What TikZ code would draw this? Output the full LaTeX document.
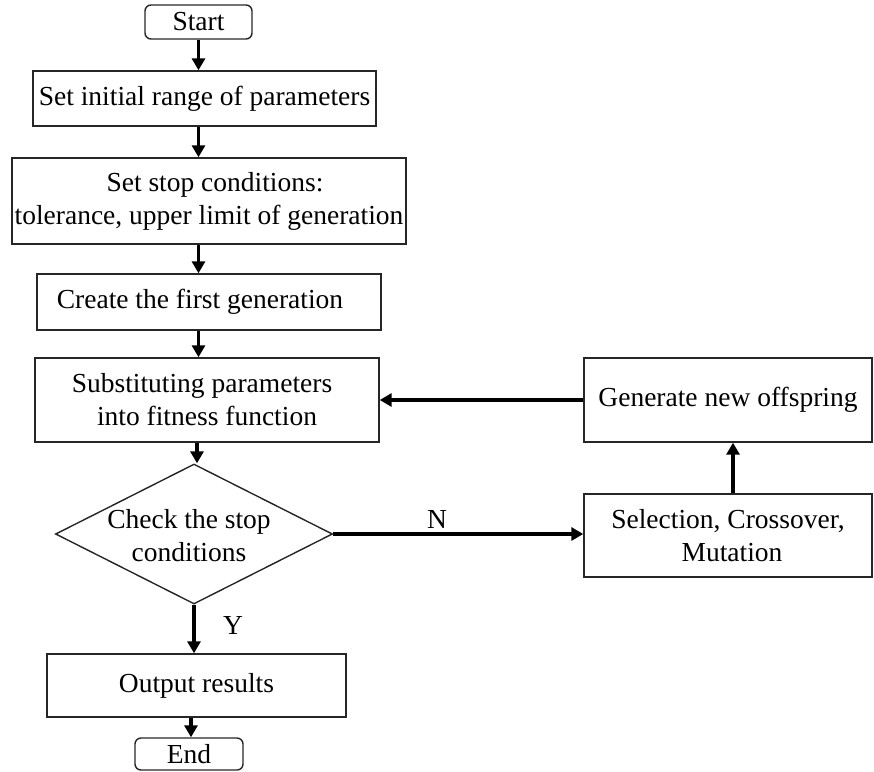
\documentclass[tikz,border=0pt]{standalone}
\usepackage{fontspec}
\setmainfont{Liberation Serif}
\usetikzlibrary{shapes.geometric,arrows.meta}
\begin{document}
\begin{tikzpicture}[x=1pt,y=-1pt,
  box/.style={draw=black!85, line width=1.4pt, inner sep=0pt, align=center,
    font=\fontsize{27.5}{33}\selectfont},
  term/.style={box, rounded corners=6pt},
  conn/.style={line width=3.6pt, -{Triangle[length=12pt,width=13pt]}},
  lbl/.style={font=\fontsize{27.5}{33}\selectfont, inner sep=0pt}]
\useasboundingbox (0,0) rectangle (874,771);
\node[term, minimum width=107pt, minimum height=34pt] (start) at (198.5,22) {Start};
\node[box, minimum width=343pt, minimum height=55pt] (b1) at (204.5,98.5) {Set initial range of parameters};
\node[box, minimum width=394pt, minimum height=86pt] (b2) at (209,201) {\hspace*{12pt}Set stop conditions:\\tolerance, upper limit of generation};
\node[box, minimum width=344pt, minimum height=56pt] (b3) at (209,302) {Create the first generation\hspace*{18pt}};
\node[box, minimum width=344pt, minimum height=84pt] (b4) at (207,400) {Substituting parameters\hspace*{10pt}\\into fitness function};
\node[draw=black!85, line width=1.4pt, diamond, minimum width=277pt, minimum height=140pt, inner sep=0pt] (dia) at (194,534) {};
\node[lbl, align=center] (diat) at (189,536) {Check the stop\\conditions};
\node[box, minimum width=299pt, minimum height=63pt] (out) at (196.5,685.5) {Output results};
\node[term, minimum width=108pt, minimum height=32pt] (end) at (189,754) {End};
\node[box, minimum width=288pt, minimum height=84pt] (gen) at (728,400) {Generate new offspring};
\node[box, minimum width=288pt, minimum height=83pt] (sel) at (728,535.5) {Selection, Crossover,\\\hspace*{8pt}Mutation};
\draw[conn] (start.south) -- (start.south |- b1.north);
\draw[conn] (start.south |- b1.south) -- (start.south |- b2.north);
\draw[conn] (start.south |- b2.south) -- (start.south |- b3.north);
\draw[conn] (start.south |- b3.south) -- (start.south |- b4.north);
\draw[conn] ([xshift=-1.5pt]start.south |- b4.south) -- ([xshift=-1.5pt]start.south |- dia.north);
\draw[conn] (dia.south) -- (dia.south |- out.north);
\draw[conn] ([xshift=2pt]end.north |- out.south) -- ([xshift=2pt]end.north);
\draw[conn] (gen.west) -- (b4.east);
\draw[conn] (dia.east) -- (dia.east -| sel.west);
\draw[conn] ([xshift=5pt]sel.north) -- ([xshift=5pt]gen.south);
\node[lbl] (n) at (437,519) {N};
\node[lbl] (y) at (233,625) {Y};
\end{tikzpicture}
\end{document}
